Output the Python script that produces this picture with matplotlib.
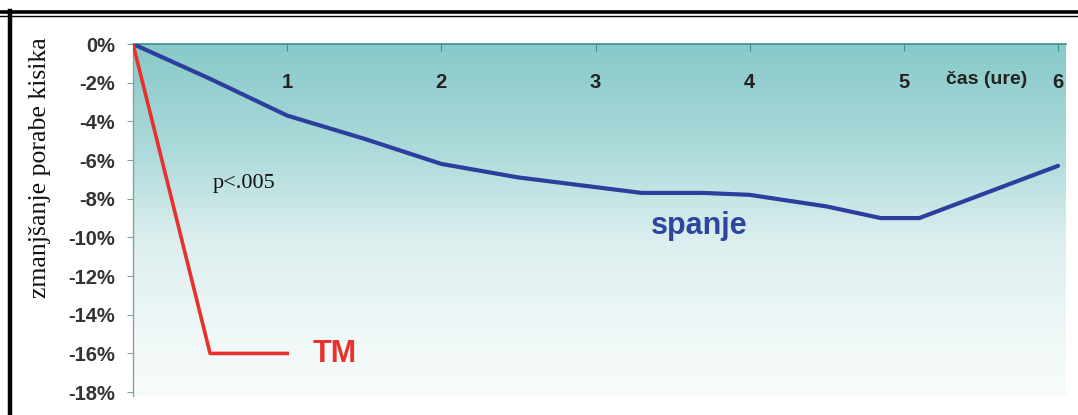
import numpy as np
import matplotlib
matplotlib.use("Agg")
import matplotlib.pyplot as plt
from matplotlib.colors import LinearSegmentedColormap
from matplotlib.lines import Line2D

# ---- data ----
spanje_x = [0, 0.5, 1.0, 1.5, 2.0, 2.5, 3.0, 3.3, 3.7, 4.0, 4.5, 4.85, 5.1, 5.5, 6.0]
spanje_y = [0, -1.8, -3.7, -4.9, -6.2, -6.9, -7.4, -7.7, -7.7, -7.8, -8.4, -9.0, -9.0, -7.8, -6.3]
tm_x = [0, 0.5, 1.0]
tm_y = [0, -16, -16]
x_labels = ["1", "2", "3", "4", "5", "6"]
x_label_pos = [1, 2, 3, 4, 5, 6]
y_ticks = [0, -2, -4, -6, -8, -10, -12, -14, -16, -18]
y_ticklabels = ["0%", "-2%", "-4%", "-6%", "-8%", "-10%", "-12%", "-14%", "-16%", "-18%"]

W, H = 1078, 415
fig = plt.figure(figsize=(W / 100, H / 100), dpi=100)

x0_px, x6_px = 133, 1058
xmax = 6.05
right_px = x0_px + (x6_px - x0_px) / 6 * xmax
top_px, bot_px = 44, 396
ax = fig.add_axes([x0_px / W, 1 - bot_px / H, (right_px - x0_px) / W, (bot_px - top_px) / H])
ax.set_xlim(0, xmax)
ax.set_ylim(-18.2, 0)

# background gradient
cmap = LinearSegmentedColormap.from_list(
    "bg", [(0.0, "#88c9c9"), (0.3, "#acdada"), (0.55, "#dbeeee"), (0.8, "#eef7f7"), (1.0, "#f7fbfb")])
grad = np.linspace(0, 1, 256).reshape(-1, 1)
ax.imshow(grad, aspect="auto", cmap=cmap, extent=[0, xmax, -18.2, 0], origin="upper", zorder=0)

ax.plot(spanje_x, spanje_y, color="#2d3f9c", lw=3, solid_capstyle="round", zorder=3)
ax.plot(tm_x, tm_y, color="#e8302c", lw=2.6, zorder=3)

for s in ["right", "bottom"]:
    ax.spines[s].set_visible(False)
ax.spines["top"].set_color("#3d8f8f")
ax.spines["top"].set_linewidth(1.2)
ax.spines["left"].set_color("#8aa0a0")
ax.spines["left"].set_linewidth(1.0)

ax.xaxis.tick_top()
ax.set_xticks(x_label_pos)
ax.tick_params(axis="x", direction="in", length=5, color="#3d8f8f", labeltop=False, labelbottom=False)
ax.set_yticks(y_ticks)
ax.set_yticklabels(y_ticklabels, fontfamily="Liberation Sans", fontweight="bold", fontsize=14.5, color="#333333")
ax.tick_params(axis="y", direction="out", length=4, color="#8aa0a0", pad=9)

for lbl, xp in zip(x_labels, x_label_pos):
    ax.text(xp, -2.0, lbl, ha="center", va="center", fontfamily="Liberation Sans",
            fontweight="bold", fontsize=14.5, color="#222222", zorder=4)
ax.text(5.54, -1.85, "čas (ure)", ha="center", va="center", fontfamily="Liberation Sans",
        fontweight="bold", fontsize=14, color="#222222", zorder=4)
ax.text(0.52, -7.2, "p<.005", ha="left", va="center", fontfamily="Liberation Serif",
        fontsize=16, color="#111111", zorder=4)
ax.text(3.67, -9.4, "spanje", ha="center", va="center", fontfamily="Liberation Sans",
        fontweight="bold", fontsize=22, color="#2d45a0", zorder=4)
ax.text(1.31, -16.05, "TM", ha="center", va="center", fontfamily="Liberation Sans",
        fontweight="bold", fontsize=22, color="#e8302c", zorder=4)

fig.text(40 / W, 1 - 168 / H, "zmanjšanje porabe kisika", rotation=90, ha="center", va="center",
         fontfamily="Liberation Serif", fontsize=18.5, color="#111111")

# frame lines
fig.add_artist(Line2D([0, 1], [1 - 12 / H, 1 - 12 / H], color="black", lw=2.6, transform=fig.transFigure))
fig.add_artist(Line2D([0, 1], [1 - 16 / H, 1 - 16 / H], color="black", lw=1.0, transform=fig.transFigure))
fig.add_artist(Line2D([10 / W, 10 / W], [0, 1 - 11 / H], color="black", lw=3.2, transform=fig.transFigure))

fig.savefig("out.png", dpi=100)
